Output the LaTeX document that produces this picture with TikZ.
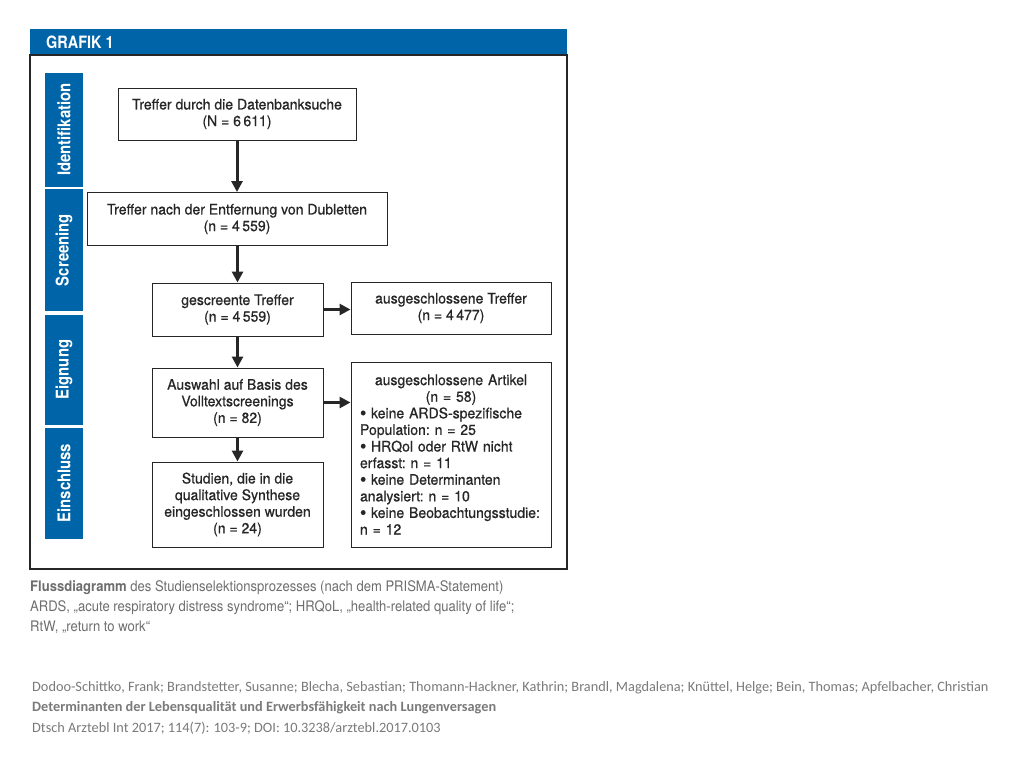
\documentclass[tikz,border=0pt]{standalone}
\usepackage{fontspec}
\setmainfont{TeX Gyre Heros}[FakeStretch=0.96,FakeBold=0.6]
\newfontfamily\condfont{TeX Gyre Heros}[FakeStretch=0.85]
\newfontfamily\capfont{TeX Gyre Heros}[FakeStretch=0.9]
\newfontfamily\citefont{Carlito}
\usetikzlibrary{arrows.meta}
\definecolor{aeblue}{HTML}{0064A8}
\definecolor{capgray}{HTML}{6E6E6E}
\definecolor{citegray}{HTML}{7A7A7A}
\newcommand{\bitem}{\hangindent=11pt\hangafter=1\noindent\makebox[11pt][l]{\raisebox{-1.2pt}[0pt][0pt]{\scalebox{1.3}{\textbullet}}}}
\begin{document}
\begin{tikzpicture}[x=1pt,y=-1pt,
  box/.style={draw=black!85,line width=1pt,fill=white,inner sep=0pt,align=center,
    font=\frenchspacing\fontsize{14.6}{16.6}\selectfont,text=black!85},
  phase/.style={fill=aeblue,inner sep=0pt,minimum height=38pt,text=white,
    font=\condfont\bfseries\fontsize{17.5}{18}\selectfont},
  arr/.style={line width=3pt,black!85,-{Triangle[length=11pt,width=11pt]}},
  capline/.style={anchor=base west,inner sep=0pt,text=capgray,font=\capfont\fontsize{14.5}{17}\selectfont},
  citeline/.style={anchor=base west,inner sep=0pt,text=citegray,font=\citefont\fontsize{14.3}{15}\selectfont}]
\useasboundingbox (0,0) rectangle (1024,768);
\fill[white] (0,0) rectangle (1024,768);
% header and frame
\fill[aeblue] (30,29) rectangle (567,55);
\node[anchor=west,inner sep=0pt,text=white,font=\condfont\bfseries\fontsize{17}{17}\selectfont] (title) at (46,42) {GRAFIK 1};
\draw[black!85,line width=1.5pt] (30,55) rectangle (567,569);
% phases
\node[phase,minimum width=114pt,rotate=90] (pid) at (64,129.5) {Identifikation};
\node[phase,minimum width=122pt,rotate=90] (psc) at (64,250) {Screening};
\node[phase,minimum width=110pt,rotate=90] (pel) at (64,369.5) {Eignung};
\node[phase,minimum width=111pt,rotate=90] (pin) at (64,483) {Einschluss};
% boxes
\node[box,minimum width=238pt,minimum height=52pt] (b1) at (237,114) {Treffer durch die Datenbanksuche\\(N = 6\,611)};
\node[box,minimum width=300pt,minimum height=53pt] (b2) at (237,219) {Treffer nach der Entfernung von Dubletten\\(n = 4\,559)};
\node[box,minimum width=171pt,minimum height=53pt] (b3) at (237.5,309.5) {gescreente Treffer\\(n = 4\,559)};
\node[box,minimum width=200pt,minimum height=52pt] (b4) at (451,308) {ausgeschlossene Treffer\\(n = 4\,477)};
\node[box,minimum width=171pt,minimum height=69pt] (b5) at (237.5,402.5) {Auswahl auf Basis des\\Volltextscreenings\\(n = 82)};
\node[box,minimum width=171pt,minimum height=85pt] (b6) at (237.5,504.5) {Studien, die in die\\qualitative Synthese\\eingeschlossen wurden\\(n = 24)};
\node[box,minimum width=200pt,minimum height=185pt,text width=182pt,align=left] (b7) at (451,454.5) {%
  {\centering ausgeschlossene Artikel\\(n = 58)\par}
  \raggedright
  \bitem keine ARDS-spezifische\\Population: n = 25\par
  \bitem HRQol oder RtW nicht\\erfasst: n = 11\par
  \bitem keine Determinanten\\analysiert: n = 10\par
  \bitem keine Beobachtungsstudie:\\n = 12\par};
% arrows
\draw[arr] (b1.south) -- (b2.north);
\draw[arr] (b2.south -| b3.north) -- (b3.north);
\draw[arr] (b3.east) -- (b4.west |- b3.east);
\draw[arr] (b3.south) -- (b5.north);
\draw[arr] (b5.east) -- (b7.west |- b5.east);
\draw[arr] (b5.south) -- (b6.north);
% caption
\node[capline] (c1) at (30,591) {\textbf{Flussdiagramm} des Studienselektionsprozesses (nach dem PRISMA-Statement)};
\node[capline] (c2) at (30,611) {ARDS, „acute respiratory distress syndrome“; HRQoL, „health-related quality of life“;};
\node[capline] (c3) at (30,631) {RtW, „return to work“};
% citation
\node[citeline] (r1) at (32,691) {Dodoo-Schittko, Frank; Brandstetter, Susanne; Blecha, Sebastian; Thomann-Hackner, Kathrin; Brandl, Magdalena; Knüttel, Helge; Bein, Thomas; Apfelbacher, Christian};
\node[citeline,font=\citefont\bfseries\fontsize{14.3}{15}\selectfont] (r2) at (32,711.5) {Determinanten der Lebensqualität und Erwerbsfähigkeit nach Lungenversagen};
\node[citeline] (r3) at (32,732) {Dtsch Arztebl Int 2017; 114(7): 103-9; DOI: 10.3238/arztebl.2017.0103};
\end{tikzpicture}
\end{document}
